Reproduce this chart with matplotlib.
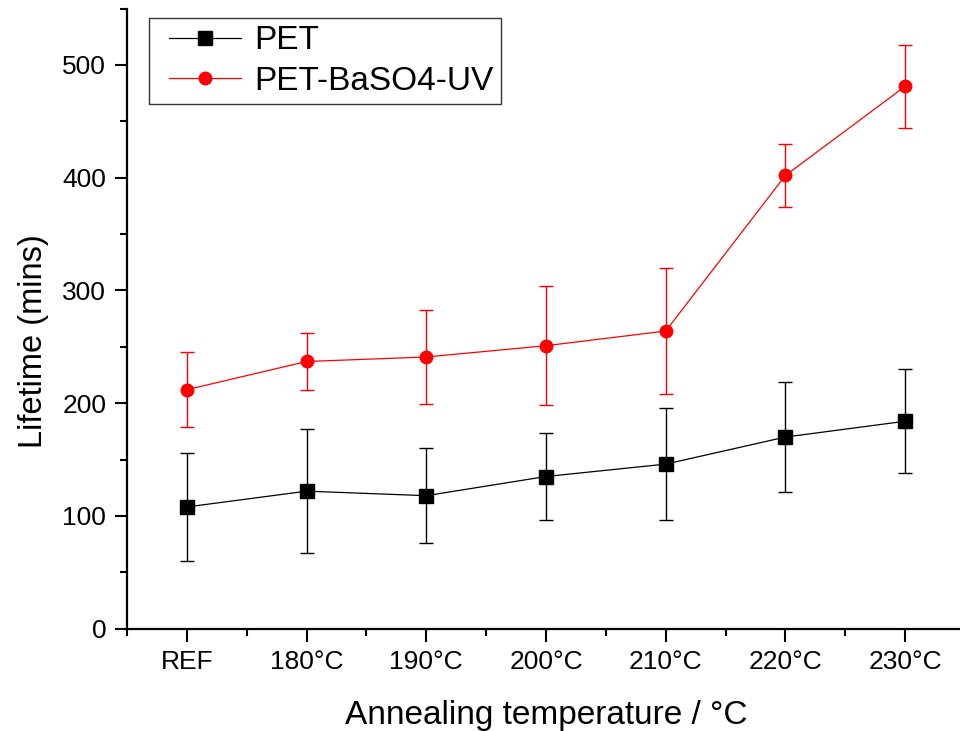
import matplotlib
matplotlib.use("Agg")
import matplotlib.pyplot as plt
from matplotlib.ticker import MultipleLocator
from matplotlib.lines import Line2D
from matplotlib.legend_handler import HandlerLine2D
import numpy as np

plt.rcParams['font.family'] = ['Liberation Sans', 'DejaVu Sans']

categories = ["REF", "180°C", "190°C", "200°C", "210°C", "220°C", "230°C"]
pet_values = [108, 122, 118, 135, 146, 170, 184]
pet_errors = [48, 55, 42, 39, 50, 49, 46]
baso4_values = [212, 237, 241, 251, 264, 402, 481]
baso4_errors = [33, 25, 42, 53, 56, 28, 37]


class LeadHandler(HandlerLine2D):
    """Legend line handler with a small leading gap before the line."""
    def get_xdata(self, legend, xdescent, ydescent, width, height, fontsize):
        lead = 0.38 * fontsize
        xdata = np.array([-xdescent + lead, -xdescent + width])
        return xdata, np.array([xdata.mean()])


fig = plt.figure(figsize=(9.6, 7.31), dpi=100)
ax = fig.add_axes([127/960, 0.1399, (965-127)/960, 0.8484])

x = np.arange(len(categories))
ax.errorbar(x, pet_values, yerr=pet_errors, color='black', marker='s', markersize=9.5,
            linewidth=0.9, elinewidth=1.0, capsize=4.8, capthick=1.0, zorder=3)
ax.errorbar(x, baso4_values, yerr=baso4_errors, color='#ff0000', marker='o', markersize=9,
            linewidth=0.9, elinewidth=1.0, capsize=4.8, capthick=1.0, zorder=3)

ax.set_xlim(-0.5, 6.5)
ax.set_ylim(0, 550)
ax.set_xticks(x)
ax.set_xticklabels(categories)
ax.xaxis.set_minor_locator(MultipleLocator(1, offset=0.5))
ax.yaxis.set_major_locator(MultipleLocator(100))
ax.yaxis.set_minor_locator(MultipleLocator(50))

for side in ['top', 'right']:
    ax.spines[side].set_visible(False)
for side in ['left', 'bottom']:
    ax.spines[side].set_linewidth(1.6)

ax.tick_params(axis='both', which='major', direction='out', length=9, width=1.5,
               labelsize=19, pad=6)
ax.tick_params(axis='both', which='minor', direction='out', length=5, width=1.5)

ax.set_xlabel('Annealing temperature / °C', fontsize=24, labelpad=19)
ax.set_ylabel('Lifetime (mins)', fontsize=23.5)
ax.yaxis.set_label_coords(-0.093, 0.464)

handles = [
    Line2D([], [], color='black', marker='s', markersize=9.5, linewidth=0.9),
    Line2D([], [], color='#ff0000', marker='o', markersize=9, linewidth=0.9),
]
leg = ax.legend(handles, ['PET', 'PET-BaSO4-UV'], loc='upper left',
                bbox_to_anchor=(0.026, 0.985), fontsize=24,
                frameon=True, fancybox=False, edgecolor='black', handlelength=2.55,
                borderpad=0.22, labelspacing=0.28, handletextpad=0.4, borderaxespad=0,
                handler_map={Line2D: LeadHandler()})
leg.get_frame().set_linewidth(1.0)

fig.savefig('out.png', dpi=100)
